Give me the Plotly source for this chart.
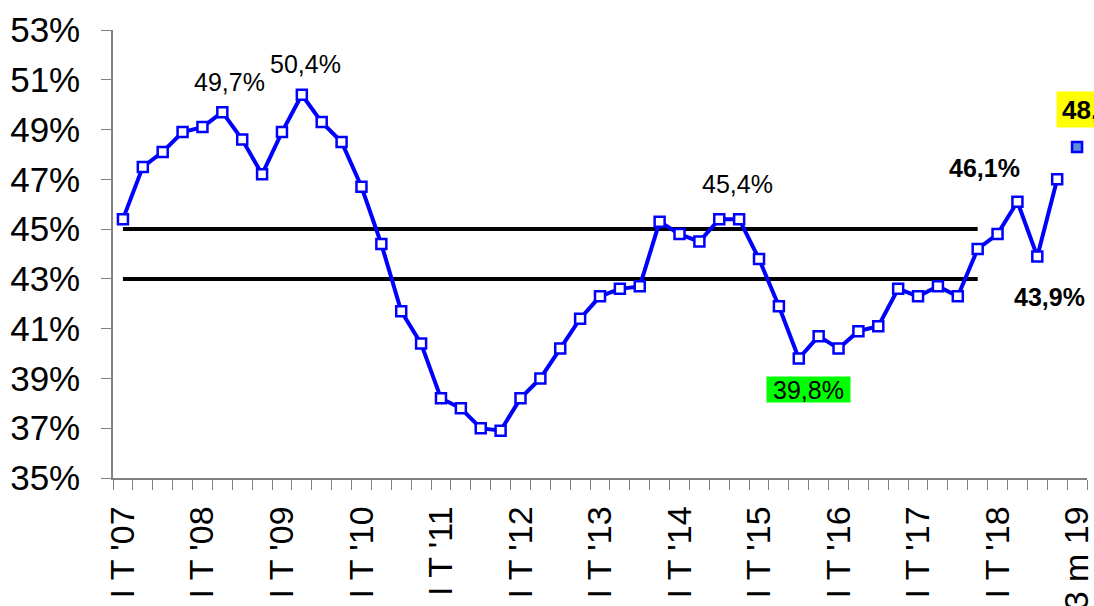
import plotly.graph_objects as go

years = ["07", "08", "09", "10", "11", "12", "13", "14", "15", "16", "17", "18"]
quarter_names = ["I T", "II T", "III T", "IV T"]
categories = [f"{q} '{y}" for y in years for q in quarter_names]
last_category = "3 m 19"

values = [45.4, 47.5, 48.1, 48.9, 49.1, 49.7, 48.6, 47.2, 48.9, 50.4, 49.3, 48.5,
          46.7, 44.4, 41.7, 40.4, 38.2, 37.8, 37.0, 36.9, 38.2, 39.0, 40.2, 41.4,
          42.3, 42.6, 42.7, 45.3, 44.8, 44.5, 45.4, 45.4, 43.8, 41.9, 39.8, 40.7,
          40.2, 40.9, 41.1, 42.6, 42.3, 42.7, 42.3, 44.2, 44.8, 46.1, 43.9, 47.0]
last_value = 48.3

upper_band = 45
lower_band = 43
band_length = 44  # number of quarters covered by the reference lines

all_categories = categories + [last_category]
tick_text = [c if i % 4 == 0 else "" for i, c in enumerate(categories)] + [last_category]

FONT = "Liberation Sans, Arial, sans-serif"
BLUE = "#0000FF"

fig = go.Figure()

band_x = categories[:band_length]
for level in (upper_band, lower_band):
    fig.add_trace(go.Scatter(
        x=band_x, y=[level] * len(band_x), mode="lines",
        line=dict(color="black", width=4), hoverinfo="skip"))

fig.add_trace(go.Scatter(
    x=categories, y=values, mode="lines+markers",
    line=dict(color=BLUE, width=4),
    marker=dict(symbol="square", size=10, color="white",
                line=dict(color=BLUE, width=2.5))))

fig.add_trace(go.Scatter(
    x=[last_category], y=[last_value], mode="markers",
    marker=dict(symbol="square", size=10, color="#5B8FD8",
                line=dict(color=BLUE, width=2.5))))


def fmt(v):
    return f"{v:.1f}".replace(".", ",") + "%"


def label(idx, text, dx, dy, bold=False, bg=None, **kw):
    x = all_categories[idx]
    y = values[idx] if idx < len(values) else last_value
    t = f"<b>{text}</b>" if bold else text
    d = dict(x=x, y=y, xref="x", yref="y", text=t, showarrow=False,
             xshift=dx, yshift=dy, font=dict(family=FONT, size=25, color="black"))
    if bg:
        d["bgcolor"] = bg
    d.update(kw)
    fig.add_annotation(**d)


label(5, fmt(values[5]), 7, 30)
label(9, fmt(values[9]), 4, 31)
label(31, fmt(values[31]), -2, 35)
label(34, fmt(values[34]), 10, -31, bg="#00FF00", width=83, height=25, borderpad=0)
label(45, fmt(values[45]), -33, 34, bold=True)
label(46, fmt(values[46]), 12, -41, bold=True)
label(48, fmt(last_value), -21, 37, bold=True, bg="#FFFF00", xanchor="left",
      height=25, width=72, align="left", borderpad=5,
      font=dict(family=FONT, size=26, color="black"))

fig.update_layout(
    width=1094, height=606,
    margin=dict(l=113, r=7, t=30, b=128),
    plot_bgcolor="white", paper_bgcolor="white",
    showlegend=False,
    font=dict(family=FONT, color="black"),
)

fig.update_xaxes(
    type="category", categoryorder="array", categoryarray=all_categories,
    range=[-0.5, len(all_categories) - 0.5],
    tickmode="array", tickvals=all_categories, ticktext=tick_text,
    tickson="boundaries", tickangle=-90,
    ticks="outside", ticklen=10, tickcolor="#808080", tickwidth=1,
    showline=True, linecolor="#808080", linewidth=1.5,
    showgrid=False, zeroline=False, automargin=False,
    tickfont=dict(family=FONT, size=34, color="black"),
    ticklabelstandoff=13,
)

fig.update_yaxes(
    range=[35, 53], tickmode="linear", tick0=35, dtick=2, ticksuffix="%",
    ticks="outside", ticklen=10, tickcolor="#808080", tickwidth=1,
    showline=True, linecolor="#808080", linewidth=1.5,
    showgrid=False, zeroline=False, automargin=False,
    tickfont=dict(family=FONT, size=35, color="black"),
    ticklabelstandoff=14,
)

fig.write_html(
    "out.html",
    config={"displayModeBar": False},
    post_script="document.body.style.margin='0';document.body.style.overflow='hidden';",
)
